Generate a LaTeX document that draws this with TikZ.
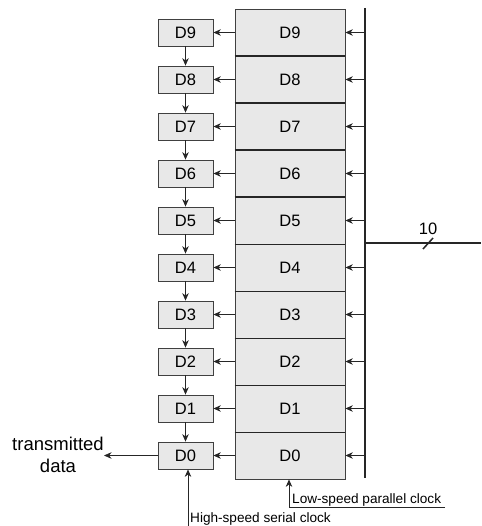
\documentclass[tikz,border=0pt]{standalone}
\usepackage{fontspec}
\setmainfont{Liberation Sans}
\usetikzlibrary{arrows.meta}
\begin{document}
\begin{tikzpicture}[x=1pt,y=-1pt,
  cell/.style={draw=black!75,line width=0.8pt,fill=black!9,minimum width=110pt,minimum height=47pt,inner sep=0pt,font=\fontsize{16.5}{18}\selectfont},
  sbox/.style={draw=black!75,line width=0.8pt,fill=black!9,minimum width=55pt,minimum height=27pt,inner sep=0pt,font=\fontsize{16.5}{18}\selectfont},
  arr/.style={-{Stealth[length=7.5pt,width=6.5pt]},line width=0.7pt,black!85},
  lbl/.style={font=\fontsize{13.6}{15}\selectfont,inner sep=0pt}]
\useasboundingbox (0,0) rectangle (481,526);
% parallel register cells and shift register stages
\foreach \i in {0,...,9}{
  \pgfmathsetmacro{\yc}{32.5+(9-\i)*47}
  \node[cell] (B\i) at (290,\yc) {D\i};
  \node[sbox] (S\i) at (185.5,\yc) {D\i};
  \coordinate (P\i) at (365,\yc);
}
% heavier separators between register cells
\foreach \i in {1,...,9}{
  \draw[line width=1.8pt,black!85] (B\i.south west) -- (B\i.south east);
}
% load bus
\coordinate (bt) at (365,8);
\coordinate (bb) at (365,478);
\draw[line width=1.8pt,black!85] (bt) -- (bb);
\foreach \i in {0,...,9}{
  \draw[arr] (P\i) -- (B\i.east);
  \draw[arr] (B\i.west) -- (S\i.east);
}
\foreach \i/\j in {9/8,8/7,7/6,6/5,5/4,4/3,3/2,2/1,1/0}{
  \draw[arr] (S\i.south) -- (S\j.north);
}
% 10-bit input
\coordinate (bi) at (365,243);
\coordinate (bo) at (481,243);
\draw[line width=1.4pt,black!85] (bi) -- (bo);
\coordinate (s1) at (423,249);
\coordinate (s2) at (433,238);
\draw[line width=1.5pt,black!85] (s1) -- (s2);
\node[font=\fontsize{16.5}{18}\selectfont,inner sep=0pt] (n10) at (428,229) {10};
% serial output
\coordinate (tx) at (104,455.5);
\draw[arr] (S0.west) -- (tx);
\node[font=\fontsize{18.5}{22}\selectfont,align=center,inner sep=0pt] (txl) at (58,455) {transmitted\\data};
% high-speed serial clock
\coordinate (hs) at (188,526);
\draw[arr] (hs) -- (S0.south -| hs);
\node[lbl,anchor=base west] (hsl) at (190,522) {High-speed serial clock};
% low-speed parallel clock
\coordinate (ls1) at (445,507);
\coordinate (ls2) at (289,507);
\draw[arr] (ls1) -- (ls2) -- (B0.south -| ls2);
\node[lbl,anchor=base west] (lsl) at (292,503) {Low-speed parallel clock};
\end{tikzpicture}
\end{document}
